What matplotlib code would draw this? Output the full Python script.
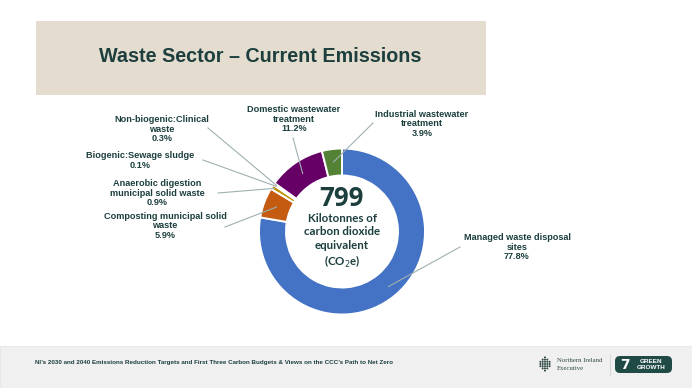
import matplotlib
matplotlib.use("Agg")
import matplotlib.pyplot as plt
from matplotlib.patches import Rectangle, FancyBboxPatch, Circle
import numpy as np

# ---------------- data ----------------
categories = [
    "Managed waste disposal\nsites",
    "Composting municipal solid\nwaste",
    "Anaerobic digestion\nmunicipal solid waste",
    "Biogenic:Sewage sludge",
    "Non-biogenic:Clinical\nwaste",
    "Domestic wastewater\ntreatment",
    "Industrial wastewater\ntreatment",
]
shares = [77.8, 5.9, 0.9, 0.1, 0.3, 11.2, 3.9]
total_kt = 799
colors = ["#4472C4", "#C55A11", "#BF9000", "#7F6000", "#C9C9C9", "#660066", "#548235"]

title = "Waste Sector \u2013 Current Emissions"
footer = ("NI\u2019s 2030 and 2040 Emissions Reduction Targets and First Three Carbon "
          "Budgets & Views on the CCC\u2019s Path to Net Zero")

# ---------------- layout ----------------
W, H = 692, 388
def Y(p):
    return H - p

TEAL = "#1C3F3E"
fig = plt.figure(figsize=(W / 100, H / 100), dpi=100)
ax = fig.add_axes([0, 0, 1, 1])
ax.set_xlim(0, W)
ax.set_ylim(0, H)
ax.axis("off")

# title banner
ax.add_patch(Rectangle((36, Y(95)), 450, 74, facecolor="#E5DCD0", edgecolor="none"))
ax.text(260, Y(57), title, ha="center", va="center", fontsize=14.2, fontweight="bold",
        color=TEAL, family=["Liberation Sans", "DejaVu Sans"])

# footer band
ax.add_patch(Rectangle((0, 0), W, H - 346, facecolor="#F0F0F0", edgecolor="#E6E6E6", lw=0.6))
ax.text(214, Y(362.5), footer, ha="center", va="center", fontsize=4.5, fontweight="bold",
        color=TEAL, family=["Liberation Sans", "DejaVu Sans"])

# logos (approximate)
cx0, cy0 = 545, Y(364)
for i in range(-2, 3):
    for j in range(-3, 4):
        if abs(i) * 1.2 + abs(j) <= 3.6:
            ax.add_patch(Circle((cx0 + i * 2.3, cy0 + j * 2.2), 1.0, color="#2E4A47", lw=0))
ax.text(557, Y(360), "Northern Ireland", fontsize=4.9, family=["Liberation Serif"],
        color="#2E4A47", va="center")
ax.text(557, Y(368), "Executive", fontsize=4.9, family=["Liberation Serif"],
        color="#2E4A47", va="center")
ax.plot([610, 610], [Y(354), Y(375)], color="#D0D0D0", lw=0.6)
ax.add_patch(FancyBboxPatch((615, Y(373)), 57, 17, boxstyle="round,pad=0,rounding_size=5",
                            facecolor="#1F4A46", edgecolor="none"))
ax.text(625, Y(365), "7", fontsize=10, fontweight="bold", color="white", va="center", ha="center")
ax.text(651, Y(364.5), "GREEN\nGROWTH", fontsize=4.6, fontweight="bold", color="white",
        va="center", ha="center", linespacing=1.15, family=["Liberation Sans"])

# donut
center = (342, Y(231.5))
R = 83
ring = 27
wedges, _ = ax.pie(shares, colors=colors, startangle=90, counterclock=False,
                   center=center, radius=R, frame=True,
                   wedgeprops=dict(width=ring, edgecolor="white", linewidth=1.4))
ax.set_xlim(0, W)
ax.set_ylim(0, H)
ax.set_aspect("equal")
ax.axis("off")

# centre text
ax.text(341, Y(198), f"{total_kt}", ha="center", va="center", fontsize=18.5, fontweight="bold",
        color=TEAL, family=["Open Sans", "DejaVu Sans"], fontstyle="normal")
ax.text(342, Y(241.5), "Kilotonnes of\ncarbon dioxide\nequivalent\n(CO$_2$e)", ha="center",
        va="center", fontsize=8.3, fontweight="bold", color=TEAL, linespacing=1.25,
        family=["Lato", "DejaVu Sans"])

# labels and leader lines
label_pos = [(517, 247), (165, 226), (157, 193), (140, 160.5), (162, 129), (294, 119), (422, 124)]
line_start = [(460, 247), (225, 227), (218, 193), (203, 160), (208, 128), (293, 138), (373, 123)]
end_r = [72, 70, 80, 80, 80, 70, 70]

cum = np.cumsum([0] + shares[:-1])
tot = sum(shares)
for k, (cat, val) in enumerate(zip(categories, shares)):
    mid = 90 - (cum[k] + val / 2) / tot * 360
    ex = center[0] + end_r[k] * np.cos(np.radians(mid))
    ey = center[1] + end_r[k] * np.sin(np.radians(mid))
    sx, sy = line_start[k]
    ax.plot([sx, ex], [Y(sy), ey], color="#9FB0B0", lw=0.8, zorder=5)
    lx, ly = label_pos[k]
    ax.text(lx, Y(ly), f"{cat}\n{val:.1f}%", ha="center", va="center", fontsize=6.6,
            fontweight="bold", color=TEAL, linespacing=1.1,
            family=["Liberation Sans", "DejaVu Sans"])

fig.savefig("out.png", dpi=100)
